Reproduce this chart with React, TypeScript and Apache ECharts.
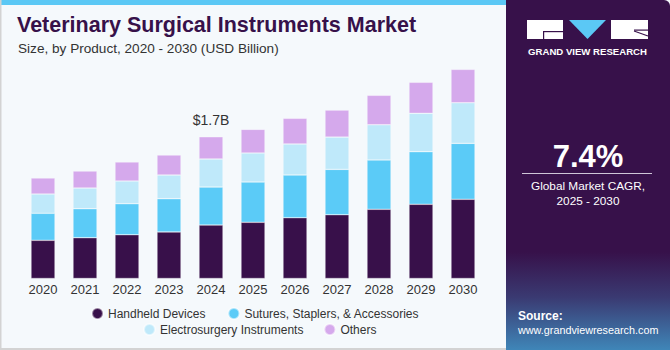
import React, { useEffect, useRef } from "react";
import * as echarts from "echarts";

const years = ["2020", "2021", "2022", "2023", "2024", "2025", "2026", "2027", "2028", "2029", "2030"];
const handheld = [0.458, 0.489, 0.525, 0.558, 0.641, 0.674, 0.729, 0.765, 0.830, 0.890, 0.950];
const sutures = [0.324, 0.348, 0.372, 0.399, 0.456, 0.483, 0.512, 0.544, 0.591, 0.631, 0.671];
const electro = [0.231, 0.248, 0.272, 0.284, 0.336, 0.348, 0.372, 0.387, 0.423, 0.460, 0.487];
const others = [0.192, 0.204, 0.228, 0.240, 0.267, 0.284, 0.308, 0.324, 0.353, 0.372, 0.400];
const seriesNames = ["Handheld Devices", "Sutures, Staplers, & Accessories", "Electrosurgery Instruments", "Others"];
const colors = ["#38104a", "#5bcbf7", "#bfe9fa", "#d5a9ec"];
const annotationIndex = 4;
const annotationText = "$1.7B";

const FONT = "'Liberation Sans', Arial, sans-serif";

export default function App() {
  const ref = useRef<HTMLDivElement>(null);
  useEffect(() => {
    document.body.style.margin = "0";
    if (!ref.current) return;
    const chart = echarts.init(ref.current, undefined, { renderer: "svg" });
    const data = [handheld, sutures, electro, others];
    const series = data.map((d, i) => ({
      name: seriesNames[i],
      type: "bar",
      stack: "total",
      barWidth: 24,
      itemStyle: { color: colors[i], borderColor: "rgba(255,255,255,0.5)", borderWidth: 0.6 },
      data: d.map((v, j) =>
        i === 3 && j === annotationIndex
          ? {
              value: v,
              label: {
                show: true,
                position: "top",
                distance: 10,
                formatter: annotationText,
                fontSize: 14,
                color: "#333",
                fontFamily: FONT,
              },
            }
          : v
      ),
    }));
    const legendText = { fontSize: 12, color: "#333", fontFamily: FONT };
    const option: any = {
      animation: false,
      backgroundColor: "#f5f9fc",
      textStyle: { fontFamily: FONT },
      grid: { left: 22, right: 186, top: 61.7, bottom: 71.5 },
      xAxis: {
        type: "category",
        data: years,
        axisLine: { show: false },
        axisTick: { show: false },
        axisLabel: { color: "#333", fontSize: 13, margin: 4, fontFamily: FONT },
      },
      yAxis: { type: "value", min: 0, max: 2.6, show: false, splitLine: { show: false } },
      legend: [
        {
          data: seriesNames.slice(0, 2),
          left: 86,
          top: 302,
          icon: "circle",
          itemWidth: 11,
          itemHeight: 11,
          itemGap: 22,
          textStyle: legendText,
        },
        {
          data: seriesNames.slice(2, 4),
          left: 138,
          top: 318,
          icon: "circle",
          itemWidth: 11,
          itemHeight: 11,
          itemGap: 20,
          textStyle: legendText,
        },
      ],
      graphic: [
        { type: "rect", shape: { x: 0, y: 0, width: 506, height: 5 }, style: { fill: "#5bc8f5" }, z: 10 },
        { type: "rect", shape: { x: 0, y: 0, width: 1.5, height: 350 }, style: { fill: "#d3d3d3" }, z: 10 },
        { type: "rect", shape: { x: 0, y: 348, width: 506, height: 2 }, style: { fill: "#d3d3d3" }, z: 10 },
        {
          type: "rect",
          shape: { x: 506, y: 0, width: 164, height: 350, r: [0, 6, 0, 0] },
          style: {
            fill: new echarts.graphic.LinearGradient(0, 0, 0, 1, [
              { offset: 0, color: "#37114a" },
              { offset: 0.72, color: "#37114a" },
              { offset: 0.85, color: "#3a3a72" },
              { offset: 1, color: "#3f86b8" },
            ]),
          },
          z: 10,
        },
        {
          type: "text",
          left: 17,
          top: 14,
          style: { text: "Veterinary Surgical Instruments Market", fontSize: 21.5, fontWeight: "bold", fill: "#37114a", fontFamily: FONT },
          z: 11,
        },
        {
          type: "text",
          left: 18,
          top: 41,
          style: { text: "Size, by Product, 2020 - 2030 (USD Billion)", fontSize: 13.6, fill: "#333", fontFamily: FONT },
          z: 11,
        },
        // logo
        { type: "rect", shape: { x: 527, y: 20, width: 36, height: 19 }, style: { fill: "#ffffff" }, z: 11 },
        { type: "rect", shape: { x: 543, y: 31, width: 20, height: 1.2 }, style: { fill: "#37114a" }, z: 12 },
        { type: "rect", shape: { x: 543, y: 31, width: 1.2, height: 8 }, style: { fill: "#37114a" }, z: 12 },
        { type: "polygon", shape: { points: [[569, 20], [606, 20], [587.5, 39]] }, style: { fill: "#5bc8f5" }, z: 11 },
        { type: "rect", shape: { x: 611, y: 20, width: 37, height: 19 }, style: { fill: "#ffffff" }, z: 11 },
        { type: "line", shape: { x1: 634, y1: 31, x2: 648, y2: 36 }, style: { stroke: "#37114a", lineWidth: 1.2 }, z: 12 },
        { type: "rect", shape: { x: 634, y: 29.5, width: 14, height: 1.2 }, style: { fill: "#37114a" }, z: 12 },
        {
          type: "text",
          x: 587.5,
          y: 51,
          style: { text: "GRAND VIEW RESEARCH", fontSize: 9.6, fontWeight: "bold", fill: "#ffffff", align: "center", verticalAlign: "middle", fontFamily: FONT },
          z: 11,
        },
        {
          type: "text",
          x: 588,
          y: 156,
          style: { text: "7.4%", fontSize: 31, fontWeight: "bold", fill: "#ffffff", align: "center", verticalAlign: "middle", fontFamily: FONT },
          z: 11,
        },
        { type: "rect", shape: { x: 522, y: 173, width: 130, height: 1 }, style: { fill: "#cfc6d8" }, z: 11 },
        {
          type: "text",
          x: 588,
          y: 186,
          style: { text: "Global Market CAGR,", fontSize: 11.8, fill: "#ffffff", align: "center", verticalAlign: "middle", fontFamily: FONT },
          z: 11,
        },
        {
          type: "text",
          x: 588,
          y: 201,
          style: { text: "2025 - 2030", fontSize: 11.8, fill: "#ffffff", align: "center", verticalAlign: "middle", fontFamily: FONT },
          z: 11,
        },
        {
          type: "text",
          x: 518,
          y: 316,
          style: { text: "Source:", fontSize: 12, fontWeight: "bold", fill: "#ffffff", verticalAlign: "middle", fontFamily: FONT },
          z: 11,
        },
        {
          type: "text",
          x: 518,
          y: 330,
          style: { text: "www.grandviewresearch.com", fontSize: 10.8, fill: "#ffffff", verticalAlign: "middle", fontFamily: FONT },
          z: 11,
        },
      ],
      series,
    };
    chart.setOption(option);
    return () => chart.dispose();
  }, []);
  return <div ref={ref} style={{ width: 670, height: 350 }} />;
}
